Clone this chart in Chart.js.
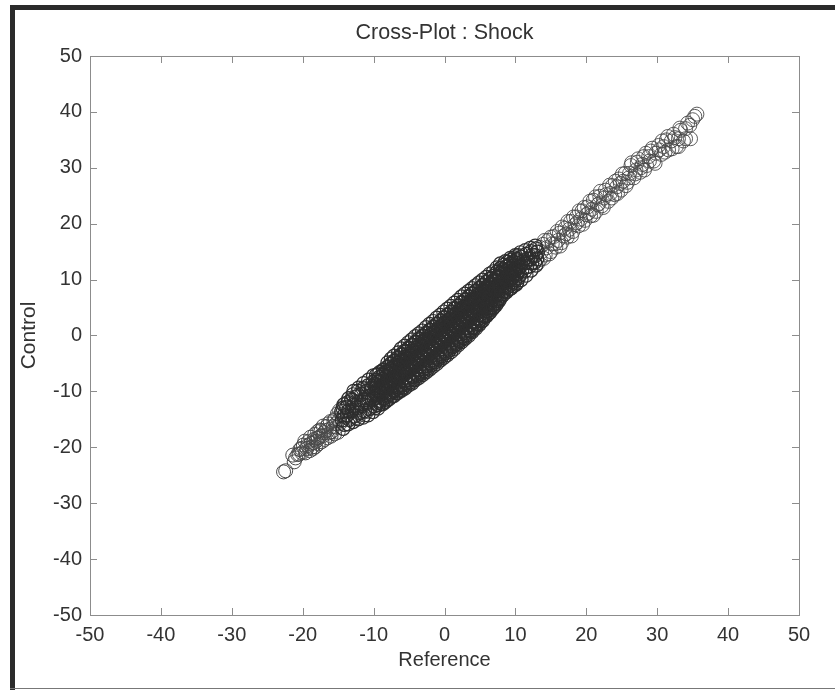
<!DOCTYPE html>
<html>
<head>
<meta charset="utf-8">
<title>Cross-Plot : Shock</title>
<script src="https://cdn.jsdelivr.net/npm/chart.js@4"></script>
<style>
  html, body { margin: 0; padding: 0; background: #fff; overflow: hidden; }
  #wrap { position: relative; width: 835px; height: 690px; }
  #myChart { position: absolute; left: 0; top: 0; filter: blur(0.5px); }
  .edge { position: absolute; background: #2b2b2b; }
</style>
</head>
<body>
<div id="wrap">
  <canvas id="myChart" width="835" height="690"></canvas>
  <div class="edge" style="left:10px;top:5px;width:5px;height:685px"></div>
  <div class="edge" style="left:10px;top:5px;width:825px;height:5px"></div>
  <div class="edge" style="left:10px;top:688px;width:825px;height:1px;background:#777"></div>
</div>
<script>
const tickValues = [-50, -40, -30, -20, -10, 0, 10, 20, 30, 40, 50];

const refCore = [
  -8.1,-7.9,-8.2,-8.0,-7.8,-8.1,-8.2,-7.9,-8.0,
  -7.6,-7.4,-7.5,-7.7,-7.3,-7.5,-7.6,-7.4,-7.5,
  -7.1,-6.9,-7.0,-7.2,-6.8,-7.1,-6.9,-7.0,-7.1,
  -6.6,-6.4,-6.5,-6.7,-6.3,-6.6,-6.5,-6.4,-6.5,
  -6.1,-5.9,-6.0,-6.2,-5.8,-6.1,-5.9,-6.0,-6.1,
  -5.6,-5.4,-5.5,-5.7,-5.3,-5.6,-5.4,-5.5,-5.6,
  -5.1,-4.9,-5.0,-5.2,-4.8,-5.1,-4.9,-5.0,-5.1,
  -4.6,-4.4,-4.5,-4.7,-4.3,-4.6,-4.4,-4.5,-4.6,
  -4.1,-3.9,-4.0,-4.2,-3.8,-4.1,-3.9,-4.0,-4.1,
  -3.6,-3.4,-3.5,-3.7,-3.3,-3.6,-3.4,-3.5,-3.6,
  -3.1,-2.9,-3.0,-3.2,-2.8,-3.1,-2.9,-3.0,-3.1,
  -2.6,-2.4,-2.5,-2.7,-2.3,-2.6,-2.4,-2.5,-2.6,
  -2.1,-1.9,-2.0,-2.2,-1.8,-2.1,-1.9,-2.0,-2.1,
  -1.6,-1.4,-1.5,-1.7,-1.3,-1.6,-1.4,-1.5,-1.6,
  -1.1,-0.9,-1.0,-1.2,-0.8,-1.1,-0.9,-1.0,-1.1,
  -0.6,-0.4,-0.5,-0.7,-0.3,-0.6,-0.4,-0.5,-0.6,
  -0.1,0.1,0.0,-0.2,0.2,-0.1,0.1,0.0,-0.1,
  0.4,0.6,0.5,0.3,0.7,0.4,0.6,0.5,0.4,
  0.9,1.1,1.0,0.8,1.2,0.9,1.1,1.0,0.9,
  1.4,1.6,1.5,1.3,1.7,1.4,1.6,1.5,1.4,
  1.9,2.1,2.0,1.8,2.2,1.9,2.1,2.0,1.9,
  2.4,2.6,2.5,2.3,2.7,2.4,2.6,2.5,2.4,
  2.9,3.1,3.0,2.8,3.2,2.9,3.1,3.0,2.9,
  3.4,3.6,3.5,3.3,3.7,3.4,3.6,3.5,3.4,
  3.9,4.1,4.0,3.8,4.2,3.9,4.1,4.0,3.9,
  4.4,4.6,4.5,4.3,4.7,4.4,4.6,4.5,4.4,
  4.9,5.1,5.0,4.8,5.2,4.9,5.1,5.0,4.9,
  5.4,5.6,5.5,5.3,5.7,5.4,5.6,5.5,5.4,
  5.9,6.1,6.0,5.8,6.2,5.9,6.1,6.0,5.9,
  6.4,6.6,6.5,6.3,6.7,6.4,6.6,6.5,6.4,
  6.9,7.1,7.0,6.8,7.2,6.9,7.1,7.0,6.9,
  7.4,7.6,7.5,7.3,7.7,7.4,7.6,7.5,7.4,
  7.9,8.1,8.0,7.8,8.2,7.9,8.1,8.0,7.9
];
const controlCore = [
  -11.5,-10.6,-9.8,-9.0,-8.2,-7.3,-6.5,-5.6,-4.9,
  -11.0,-10.1,-9.3,-8.4,-7.7,-6.8,-6.0,-5.1,-4.2,
  -10.7,-9.7,-8.8,-8.0,-7.2,-6.3,-5.6,-4.6,-3.7,
  -10.2,-9.3,-8.3,-7.5,-6.6,-5.8,-4.9,-4.1,-3.1,
  -9.8,-8.8,-7.9,-7.0,-6.1,-5.3,-4.4,-3.5,-2.4,
  -9.4,-8.4,-7.4,-6.6,-5.6,-4.7,-3.9,-3.0,-1.9,
  -8.9,-7.9,-7.0,-6.1,-5.1,-4.2,-3.4,-2.4,-1.3,
  -8.5,-7.4,-6.4,-5.5,-4.6,-3.7,-2.8,-1.8,-0.8,
  -7.9,-6.9,-5.9,-5.0,-4.0,-3.1,-2.2,-1.3,-0.2,
  -7.5,-6.4,-5.4,-4.5,-3.5,-2.6,-1.7,-0.8,0.3,
  -7.0,-5.9,-4.9,-3.9,-3.0,-2.0,-1.1,-0.2,0.8,
  -6.5,-5.4,-4.3,-3.4,-2.4,-1.5,-0.6,0.3,1.4,
  -6.0,-4.9,-3.8,-2.9,-1.9,-0.9,0.0,0.9,2.0,
  -5.5,-4.4,-3.3,-2.3,-1.4,-0.4,0.5,1.4,2.5,
  -5.0,-3.9,-2.8,-1.8,-0.9,0.1,1.0,2.0,3.1,
  -4.4,-3.3,-2.3,-1.3,-0.3,0.7,1.6,2.6,3.6,
  -3.9,-2.8,-1.7,-0.7,0.2,1.2,2.2,3.2,4.2,
  -3.4,-2.3,-1.2,-0.2,0.7,1.7,2.7,3.7,4.7,
  -2.9,-1.8,-0.7,0.3,1.3,2.2,3.2,4.2,5.2,
  -2.3,-1.2,-0.1,0.9,1.9,2.8,3.8,4.8,5.8,
  -1.7,-0.7,0.4,1.4,2.4,3.3,4.3,5.3,6.3,
  -1.1,-0.1,1.0,2.0,3.0,3.9,4.9,5.9,6.9,
  -0.5,0.5,1.5,2.5,3.5,4.4,5.4,6.4,7.4,
  0.0,1.0,2.0,3.0,4.0,5.0,5.9,6.9,7.9,
  0.7,1.6,2.6,3.6,4.6,5.5,6.5,7.5,8.4,
  1.3,2.2,3.2,4.2,5.1,6.1,7.0,8.0,8.9,
  2.0,2.9,3.8,4.8,5.7,6.6,7.5,8.5,9.4,
  2.7,3.6,4.5,5.4,6.3,7.2,8.1,9.0,9.9,
  3.5,4.4,5.2,6.1,7.0,7.8,8.7,9.6,10.4,
  4.2,5.1,5.9,6.8,7.6,8.4,9.3,10.1,11.0,
  5.0,5.8,6.6,7.4,8.2,9.0,9.8,10.6,11.4,
  5.8,6.6,7.4,8.2,9.0,9.8,10.6,11.4,12.1,
  6.8,7.5,8.2,9.0,9.8,10.5,11.3,12.0,12.8
];

const refCoreFill = [
  -9.8,-9.6,-9.9,-9.7,-9.5,-9.8,-9.7,-9.6,
  -9.3,-9.1,-9.4,-9.2,-9.0,-9.3,-9.2,-9.1,
  -8.8,-8.6,-8.9,-8.7,-8.5,-8.8,-8.7,-8.6,
  -8.3,-8.1,-8.4,-8.2,-8.0,-8.3,-8.2,-8.1,
  -7.8,-7.6,-7.9,-7.7,-7.5,-7.8,-7.7,-7.6,
  -7.3,-7.1,-7.4,-7.2,-7.0,-7.3,-7.2,-7.1,
  -6.8,-6.6,-6.9,-6.7,-6.5,-6.8,-6.7,-6.6,
  -6.3,-6.1,-6.4,-6.2,-6.0,-6.3,-6.2,-6.1,
  -5.8,-5.6,-5.9,-5.7,-5.5,-5.8,-5.7,-5.6,
  -5.3,-5.1,-5.4,-5.2,-5.0,-5.3,-5.2,-5.1,
  -4.8,-4.6,-4.9,-4.7,-4.5,-4.8,-4.7,-4.6,
  -4.3,-4.1,-4.4,-4.2,-4.0,-4.3,-4.2,-4.1,
  -3.8,-3.6,-3.9,-3.7,-3.5,-3.8,-3.7,-3.6,
  -3.3,-3.1,-3.4,-3.2,-3.0,-3.3,-3.2,-3.1,
  -2.8,-2.6,-2.9,-2.7,-2.5,-2.8,-2.7,-2.6,
  -2.3,-2.1,-2.4,-2.2,-2.0,-2.3,-2.2,-2.1,
  -1.8,-1.6,-1.9,-1.7,-1.5,-1.8,-1.7,-1.6,
  -1.3,-1.1,-1.4,-1.2,-1.0,-1.3,-1.2,-1.1,
  -0.8,-0.6,-0.9,-0.7,-0.5,-0.8,-0.7,-0.6,
  -0.3,-0.1,-0.4,-0.2,0.0,-0.3,-0.2,-0.1,
  0.2,0.4,0.1,0.3,0.5,0.2,0.3,0.4,
  0.7,0.9,0.6,0.8,1.0,0.7,0.8,0.9,
  1.2,1.4,1.1,1.3,1.5,1.2,1.3,1.4,
  1.7,1.9,1.6,1.8,2.0,1.7,1.8,1.9,
  2.2,2.4,2.1,2.3,2.5,2.2,2.3,2.4,
  2.7,2.9,2.6,2.8,3.0,2.7,2.8,2.9,
  3.2,3.4,3.1,3.3,3.5,3.2,3.3,3.4,
  3.7,3.9,3.6,3.8,4.0,3.7,3.8,3.9,
  4.2,4.4,4.1,4.3,4.5,4.2,4.3,4.4,
  4.7,4.9,4.6,4.8,5.0,4.7,4.8,4.9,
  5.2,5.4,5.1,5.3,5.5,5.2,5.3,5.4,
  5.7,5.9,5.6,5.8,6.0,5.7,5.8,5.9,
  6.2,6.4,6.1,6.3,6.5,6.2,6.3,6.4,
  6.7,6.9,6.6,6.8,7.0,6.7,6.8,6.9,
  7.2,7.4,7.1,7.3,7.5,7.2,7.3,7.4,
  7.7,7.9,7.6,7.8,8.0,7.7,7.8,7.9,
  8.2,8.4,8.1,8.3,8.5,8.2,8.3,8.4,
  8.7,8.9,8.6,8.8,9.0,8.7,8.8,8.9,
  9.2,9.4,9.1,9.3,9.5,9.2,9.3,9.4,
  9.7,9.9,9.6,9.8,10.0,9.7,9.8,9.9,
  10.2,10.4,10.1,10.3,10.5,10.2,10.3,10.4
];
const controlCoreFill = [
  -12.9,-12.1,-11.3,-10.4,-9.7,-8.8,-8.0,-7.1,
  -12.4,-11.6,-10.8,-9.9,-9.2,-8.3,-7.5,-6.6,
  -12.2,-11.2,-10.4,-9.5,-8.8,-7.9,-7.1,-6.2,
  -11.8,-10.8,-10.0,-9.0,-8.3,-7.4,-6.6,-5.7,
  -11.3,-10.3,-9.4,-8.5,-7.8,-6.9,-6.1,-5.1,
  -10.8,-9.8,-8.9,-8.0,-7.3,-6.4,-5.6,-4.6,
  -10.2,-9.2,-8.3,-7.4,-6.7,-5.8,-5.0,-4.0,
  -9.8,-8.7,-7.8,-6.9,-6.2,-5.3,-4.5,-3.4,
  -9.2,-8.1,-7.2,-6.3,-5.6,-4.7,-3.9,-2.8,
  -8.7,-7.6,-6.7,-5.8,-5.1,-4.2,-3.4,-2.3,
  -8.3,-7.2,-6.2,-5.3,-4.6,-3.7,-2.8,-1.7,
  -7.8,-6.7,-5.7,-4.8,-4.1,-3.2,-2.3,-1.2,
  -7.2,-6.1,-5.1,-4.2,-3.5,-2.6,-1.7,-0.6,
  -6.8,-5.6,-4.6,-3.7,-3.0,-2.1,-1.2,-0.1,
  -6.3,-5.1,-4.1,-3.2,-2.5,-1.6,-0.7,0.4,
  -5.8,-4.6,-3.6,-2.7,-2.0,-1.1,-0.2,0.9,
  -5.2,-4.0,-3.0,-2.1,-1.4,-0.5,0.4,1.5,
  -4.7,-3.5,-2.5,-1.6,-0.9,0.0,0.9,2.0,
  -4.2,-3.0,-2.0,-1.1,-0.4,0.5,1.4,2.5,
  -3.6,-2.4,-1.4,-0.5,0.2,1.1,2.0,3.1,
  -3.1,-1.9,-0.9,0.0,0.7,1.6,2.5,3.6,
  -2.6,-1.4,-0.4,0.5,1.2,2.1,3.0,4.1,
  -2.0,-0.8,0.2,1.1,1.8,2.7,3.6,4.7,
  -1.5,-0.3,0.7,1.6,2.3,3.2,4.1,5.2,
  -0.9,0.3,1.3,2.2,2.9,3.8,4.7,5.8,
  -0.4,0.8,1.8,2.7,3.4,4.3,5.2,6.3,
  0.2,1.4,2.4,3.3,4.0,4.9,5.8,6.9,
  0.8,1.9,2.9,3.8,4.5,5.4,6.3,7.4,
  1.4,2.5,3.4,4.3,5.0,5.9,6.8,7.8,
  2.1,3.1,4.0,4.9,5.6,6.5,7.4,8.4,
  2.6,3.6,4.5,5.4,6.1,7.0,7.9,8.9,
  3.4,4.4,5.2,6.1,6.8,7.7,8.5,9.5,
  4.0,5.0,5.8,6.7,7.4,8.3,9.1,10.1,
  4.7,5.6,6.4,7.3,8.0,8.9,9.7,10.6,
  5.4,6.3,7.1,8.0,8.7,9.6,10.4,11.3,
  6.3,7.2,8.0,8.8,9.5,10.3,11.1,12.0,
  7.2,8.0,8.8,9.6,10.2,11.0,11.8,12.6,
  7.9,8.7,9.4,10.2,10.8,11.6,12.3,13.1,
  8.4,9.2,9.9,10.6,11.2,12.0,12.7,13.5,
  8.9,9.7,10.4,11.1,11.7,12.4,13.1,13.9,
  9.5,10.3,11.0,11.6,12.2,12.9,13.6,14.3
];

const refWings = [
  -8.7,-8.5,-8.8,-8.6,-8.9,-8.7,-8.6,
  -9.4,-9.2,-9.5,-9.3,-9.6,-9.4,-9.3,
  -10.1,-9.9,-10.2,-10.0,-10.3,-10.1,-10.0,
  -10.8,-10.6,-10.9,-10.7,-11.0,-10.8,-10.7,
  -11.5,-11.3,-11.6,-11.4,-11.7,-11.5,-11.4,
  -12.2,-12.0,-12.3,-12.1,-12.4,-12.2,-12.1,
  -12.9,-12.7,-13.0,-12.8,-13.1,-12.9,-12.8,
  -13.6,-13.4,-13.7,-13.5,-13.8,-13.6,-13.5,
  -14.3,-14.1,-14.4,-14.2,-14.5,-14.3,-14.2,
  8.7,8.5,8.8,8.6,8.9,8.7,8.6,
  9.4,9.2,9.5,9.3,9.6,9.4,9.3,
  10.1,9.9,10.2,10.0,10.3,10.1,10.0,
  10.8,10.6,10.9,10.7,11.0,10.8,10.7,
  11.5,11.3,11.6,11.4,11.7,11.5,11.4,
  12.2,12.0,12.3,12.1,12.4,12.2,12.1,
  12.9,12.7,13.0,12.8,13.1,12.9,12.8
];
const controlWings = [
  -12.2,-11.2,-10.2,-9.2,-8.2,-7.2,-6.2,
  -13.0,-12.0,-11.0,-10.0,-9.0,-8.0,-6.9,
  -13.6,-12.6,-11.5,-10.5,-9.4,-8.4,-7.2,
  -14.2,-13.1,-12.0,-11.0,-10.0,-9.0,-8.0,
  -14.6,-13.5,-12.5,-11.5,-10.5,-9.5,-8.6,
  -14.9,-13.9,-12.9,-12.0,-11.0,-10.0,-9.4,
  -15.4,-14.4,-13.4,-12.5,-11.6,-10.6,-10.0,
  -15.8,-15.0,-14.2,-13.5,-12.8,-12.0,-11.3,
  -16.6,-15.9,-15.1,-14.4,-13.6,-13.0,-12.4,
  7.8,8.7,9.6,10.5,11.4,12.3,13.2,
  8.5,9.4,10.3,11.2,12.0,12.9,13.8,
  9.2,10.0,10.9,11.7,12.5,13.4,14.3,
  10.0,10.8,11.6,12.4,13.2,14.0,14.8,
  10.8,11.5,12.3,13.0,13.7,14.5,15.2,
  11.7,12.4,13.0,13.7,14.4,15.0,15.6,
  12.6,13.1,13.7,14.3,14.9,15.5,16.0
];

const refLowTail = [
  -15.0,-15.2,-14.9,-15.1,-15.5,-15.7,-15.4,-15.9,-16.0,-16.3,
  -16.1,-16.5,-16.7,-16.4,-16.9,-17.0,-17.3,-17.1,-17.5,-17.8,
  -17.6,-18.0,-18.2,-17.9,-18.4,-18.6,-18.3,-18.8,-19.0,-19.2,
  -18.9,-19.4,-19.6,-19.9,-19.7,-20.1,-20.4,-20.7,-21.0,-21.4,
  -21.2,-22.4,-22.7,
  -10.5,-10.7,-10.9,-11.1,-11.3,-11.2,-11.8,-11.9,-12.1,-12.4,
  -12.6,-12.5,-13.0,-13.2,-13.1,-13.8,-14.0,-14.0,-14.5,-14.7,
  -14.8,-15.3,-15.6,-16.2,-16.6,-17.1,-17.4,-17.8,-18.1,-18.5,
  -18.7,-19.3,-20.2,-20.5
];
const controlLowTail = [
  -17.3,-16.4,-15.2,-14.0,-17.6,-16.3,-14.9,-17.2,-18.0,-16.8,
  -15.4,-18.3,-17.0,-15.8,-18.6,-17.4,-19.0,-16.2,-18.0,-19.4,
  -16.9,-18.4,-19.9,-17.2,-18.6,-20.3,-17.7,-19.3,-20.6,-19.0,
  -18.2,-20.2,-21.0,-19.6,-18.9,-21.0,-20.4,-21.3,-21.9,-21.4,
  -22.6,-24.2,-24.4,
  -12.9,-10.2,-13.6,-11.2,-14.2,-9.4,-12.7,-13.8,-10.6,-13.4,
  -12.0,-14.7,-12.9,-14.6,-11.4,-13.0,-14.6,-12.2,-14.1,-15.7,
  -13.4,-15.8,-15.2,-17.4,-16.3,-17.9,-17.0,-18.3,-18.9,-19.2,
  -20.0,-19.7,-20.2,-21.2
];

const refHighTail = [
  13.5,13.7,13.9,14.2,14.4,14.6,15.0,15.2,15.4,15.7,
  16.0,16.2,16.5,16.8,17.0,17.3,17.6,17.8,18.1,18.4,
  18.6,18.9,19.2,19.4,19.8,20.0,20.2,20.6,20.8,21.0,
  21.4,21.6,21.9,22.2,22.5,22.7,23.1,23.4,23.7,24.0,
  24.3,24.6,24.9,25.2,25.5,25.8,26.1,26.3,26.7,27.0,
  27.2,27.6,27.9,28.1,28.5,28.8,29.1,29.5,29.8,30.2,
  30.6,30.9,31.3,31.6,32.0,32.3,32.7,33.0,33.3,33.7,
  34.0,34.3,34.7,35.0,35.3,35.6,
  13.2,13.4,14.0,14.1,14.8,15.0,15.6,15.9,16.3,16.6,
  17.2,17.4,17.9,18.2,18.7,19.0,19.5,19.7,20.3,20.5,
  21.0,21.3,21.8,22.0,22.4,22.8,23.3,23.6,24.1,24.4,
  24.8,25.1,25.6,26.0,26.4,26.9,27.3,27.7,28.2,28.4,
  28.9,29.3,29.7,30.3,30.7,31.1,31.5,32.1,32.5,33.0,
  33.2,34.0,34.6
];
const controlHighTail = [
  13.6,15.0,16.3,14.4,15.7,17.0,15.0,16.4,17.7,15.8,
  17.0,18.3,16.6,17.8,19.2,17.6,19.0,20.4,18.6,19.8,
  21.2,19.6,20.8,22.3,20.6,21.6,23.0,21.4,22.6,24.2,
  22.2,23.4,24.9,23.2,24.6,26.0,24.0,25.4,26.8,25.2,
  26.6,28.0,26.0,27.6,29.0,27.4,29.0,30.4,28.2,29.6,
  31.0,29.2,30.6,32.0,30.4,32.0,33.0,31.2,32.6,34.0,
  32.4,33.8,35.0,33.2,34.8,36.0,33.8,35.2,36.7,34.8,
  37.0,38.0,35.2,38.6,39.2,39.6,
  13.0,15.8,13.8,17.0,14.6,17.6,16.4,18.6,16.0,19.4,
  18.2,20.4,17.8,21.2,20.2,22.3,19.9,22.9,21.9,24.0,
  21.5,24.8,23.6,25.8,22.9,25.2,26.9,24.6,27.6,25.4,
  27.2,28.9,26.8,28.2,30.9,28.9,31.6,30.0,29.6,32.6,
  31.2,33.5,30.8,33.2,34.8,32.8,35.6,33.4,35.4,33.8,
  37.1,35.2,37.6
];

const inkColor = "#2e2e2e";
const tailInk = "#4a4a4a";
const textColor = "#333";
const frameColor = "#8c8c8c";
const fontFamily = "'Liberation Sans', Arial, sans-serif";

function toPoints(xs, ys) {
  return xs.map((x, i) => ({ x: x, y: ys[i] }));
}

function circleSet(label, xs, ys, color, width) {
  return {
    label: label,
    data: toPoints(xs, ys),
    showLine: false,
    pointStyle: "circle",
    pointRadius: 7,
    pointBorderWidth: width,
    pointBorderColor: color,
    pointBackgroundColor: "transparent"
  };
}

// axes box on all four sides, ticks point inward like the original
const innerTicks = {
  id: "innerTicks",
  afterDatasetsDraw(chart) {
    const { ctx, chartArea: a, scales } = chart;
    ctx.save();
    ctx.strokeStyle = frameColor;
    ctx.lineWidth = 1;
    ctx.strokeRect(a.left + 0.5, a.top + 0.5, a.right - a.left, a.bottom - a.top);
    ctx.beginPath();
    tickValues.slice(1, -1).forEach(v => {
      const px = Math.round(scales.x.getPixelForValue(v)) + 0.5;
      const py = Math.round(scales.y.getPixelForValue(v)) + 0.5;
      ctx.moveTo(px, a.bottom); ctx.lineTo(px, a.bottom - 7);
      ctx.moveTo(px, a.top); ctx.lineTo(px, a.top + 7);
      ctx.moveTo(a.left, py); ctx.lineTo(a.left + 7, py);
      ctx.moveTo(a.right, py); ctx.lineTo(a.right - 7, py);
    });
    ctx.stroke();
    ctx.restore();
  }
};

new Chart(document.getElementById("myChart"), {
  type: "scatter",
  data: {
    datasets: [
      circleSet("Wings", refWings, controlWings, inkColor, 1.2),
      circleSet("Core", refCore, controlCore, inkColor, 1.2),
      circleSet("Core fill", refCoreFill, controlCoreFill, inkColor, 1.2),
      circleSet("Low tail", refLowTail, controlLowTail, tailInk, 1),
      circleSet("High tail", refHighTail, controlHighTail, tailInk, 0.9)
    ]
  },
  options: {
    responsive: false,
    animation: false,
    layout: {
      autoPadding: false,
      padding: { top: 21, right: 36, bottom: 0, left: 0 }
    },
    plugins: {
      legend: { display: false },
      tooltip: { enabled: false },
      title: {
        display: true,
        fullSize: false,
        text: "Cross-Plot : Shock",
        color: textColor,
        font: { family: fontFamily, size: 21.5, weight: "normal", lineHeight: 1.116 },
        padding: { top: 0, bottom: 11 }
      }
    },
    scales: {
      x: {
        type: "linear",
        min: -50,
        max: 50,
        afterFit(s) { s.height = 75; },
        afterBuildTicks(s) { s.ticks = tickValues.map(v => ({ value: v })); },
        grid: { display: false, drawTicks: false },
        border: { display: false },
        ticks: {
          color: textColor,
          maxRotation: 0,
          padding: 8,
          font: { family: fontFamily, size: 20 }
        },
        title: {
          display: true,
          text: "Reference",
          color: textColor,
          font: { family: fontFamily, size: 20 },
          padding: { top: 0, bottom: 18 }
        }
      },
      y: {
        type: "linear",
        min: -50,
        max: 50,
        afterFit(s) { s.width = 90; },
        afterBuildTicks(s) { s.ticks = tickValues.map(v => ({ value: v })); },
        grid: { display: false, drawTicks: false },
        border: { display: false },
        ticks: {
          color: textColor,
          padding: 8,
          font: { family: fontFamily, size: 20 }
        },
        title: {
          display: true,
          text: "Control",
          color: textColor,
          font: { family: fontFamily, size: 21 },
          padding: { top: 17, bottom: 0 }
        }
      }
    }
  },
  plugins: [innerTicks]
});
</script>
</body>
</html>
